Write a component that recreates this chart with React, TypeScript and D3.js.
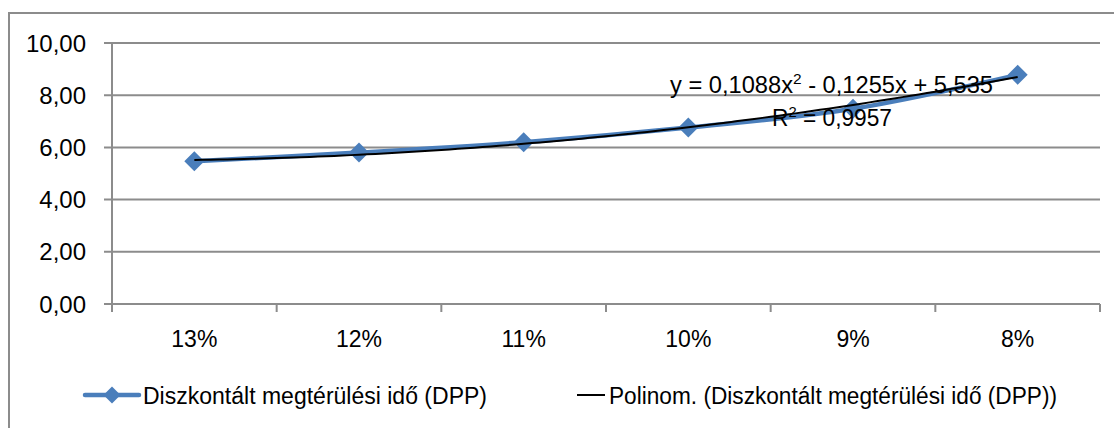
import React from "react";
import * as d3 from "d3";

const categories = ["13%", "12%", "11%", "10%", "9%", "8%"];
const dppValues = [5.47, 5.8, 6.2, 6.76, 7.48, 8.78];
const yTicks = [0, 2, 4, 6, 8, 10];
const trendCoeffs = [5.535, -0.1255, 0.1088]; // c0 + c1*x + c2*x^2
const seriesName = "Diszkontált megtérülési idő (DPP)";
const trendName = "Polinom. (Diszkontált megtérülési idő (DPP))";
const eqParts = ["y = 0,1088x", "2", " - 0,1255x + 5,535"];
const r2Parts = ["R", "2", " = 0,9957"];

const W = 1114;
const H = 428;
const FONT = "'Liberation Sans', Arial, sans-serif";
const GRID = "#8c8c8c";
const BLUE = "#4a7ebb";

export default function App() {
  const left = 112, right = 1100, top = 43, bottom = 304;
  const x = d3.scaleBand<string>().domain(categories).range([left, right]);
  const y = d3.scaleLinear().domain([0, 10]).range([bottom, top]);
  const cx = (i: number) => (x(categories[i]) as number) + x.bandwidth() / 2;

  const pts: [number, number][] = dppValues.map((v, i) => [cx(i), y(v)]);
  const seriesPath = d3.line().curve(d3.curveCatmullRom.alpha(0.5))(pts) || "";

  const trendPts: [number, number][] = [];
  const n = 100;
  for (let k = 0; k <= n; k++) {
    const t = 1 + (5 * k) / n;
    const v = trendCoeffs[0] + trendCoeffs[1] * t + trendCoeffs[2] * t * t;
    const px = cx(0) + ((t - 1) / 5) * (cx(5) - cx(0));
    trendPts.push([px, y(v)]);
  }
  const trendPath = d3.line()(trendPts) || "";

  const diamond = (px: number, py: number, r: number) =>
    `M${px},${py - r}L${px + r},${py}L${px},${py + r}L${px - r},${py}Z`;

  const tickEdges = d3.range(categories.length + 1).map((i) => left + i * x.bandwidth());

  return (
    <svg width={W} height={H} style={{ position: "absolute", left: 0, top: 0, background: "#fff" }}>
      <rect x={9} y={13} width={W} height={H} fill="#fff" stroke={GRID} strokeWidth={2} />
      {yTicks.map((t) => (
        <g key={t}>
          <line x1={104} x2={right} y1={y(t)} y2={y(t)} stroke={GRID} strokeWidth={2} />
          <text x={86} y={y(t) + 8.5} textAnchor="end" fontFamily={FONT} fontSize={24} fill="#000">
            {t.toFixed(2).replace(".", ",")}
          </text>
        </g>
      ))}
      <line x1={left} x2={left} y1={top} y2={bottom} stroke={GRID} strokeWidth={2} />
      {tickEdges.map((tx, i) => (
        <line key={i} x1={tx} x2={tx} y1={bottom} y2={312} stroke={GRID} strokeWidth={2} />
      ))}
      {categories.map((c, i) => (
        <text key={c} x={cx(i)} y={347} textAnchor="middle" fontFamily={FONT} fontSize={23} fill="#000">
          {c}
        </text>
      ))}
      <path d={seriesPath} fill="none" stroke={BLUE} strokeWidth={4.5} strokeLinejoin="round" strokeLinecap="round" />
      {pts.map(([px, py], i) => (
        <path key={i} d={diamond(px, py, 10)} fill={BLUE} />
      ))}
      <path d={trendPath} fill="none" stroke="#000" strokeWidth={2} />
      <text x={670} y={93} fontFamily={FONT} fontSize={23} fill="#000" textLength={323} lengthAdjust="spacingAndGlyphs">
        <tspan>{eqParts[0]}</tspan>
        <tspan fontSize={15} dy={-9}>{eqParts[1]}</tspan>
        <tspan dy={9}>{eqParts[2]}</tspan>
      </text>
      <text x={772} y={126} fontFamily={FONT} fontSize={23} fill="#000" textLength={120} lengthAdjust="spacingAndGlyphs">
        <tspan>{r2Parts[0]}</tspan>
        <tspan fontSize={15} dy={-9}>{r2Parts[1]}</tspan>
        <tspan dy={9}>{r2Parts[2]}</tspan>
      </text>
      {/* legend */}
      <line x1={85} x2={139} y1={395} y2={395} stroke={BLUE} strokeWidth={4.5} strokeLinecap="round" />
      <path d={diamond(112, 395, 8.5)} fill={BLUE} />
      <text x={143} y={404} fontFamily={FONT} fontSize={23} fill="#000" textLength={344} lengthAdjust="spacingAndGlyphs">
        {seriesName}
      </text>
      <line x1={577} x2={605} y1={395} y2={395} stroke="#000" strokeWidth={2} />
      <text x={609} y={404} fontFamily={FONT} fontSize={23} fill="#000" textLength={448} lengthAdjust="spacingAndGlyphs">
        {trendName}
      </text>
    </svg>
  );
}
